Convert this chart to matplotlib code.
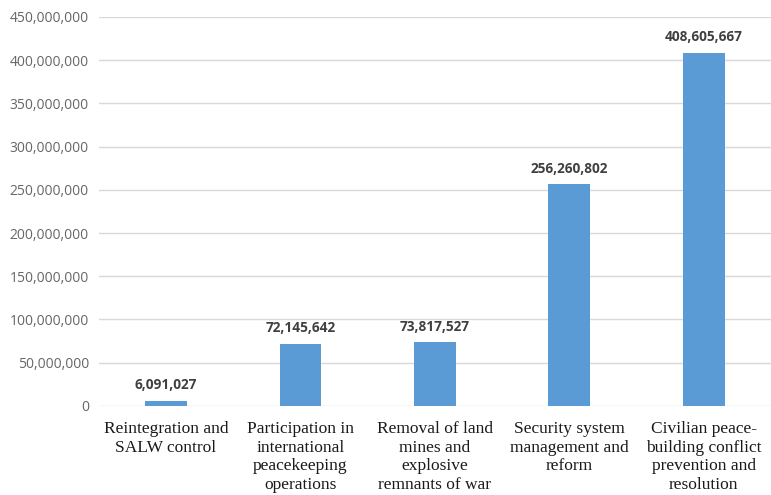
import matplotlib.pyplot as plt
from matplotlib.ticker import FuncFormatter

categories = [
    "Reintegration and\nSALW control",
    "Participation in\ninternational\npeacekeeping\noperations",
    "Removal of land\nmines and\nexplosive\nremnants of war",
    "Security system\nmanagement and\nreform",
    "Civilian peace-\nbuilding conflict\nprevention and\nresolution",
]
amounts = [6091027, 72145642, 73817527, 256260802, 408605667]

fig = plt.figure(figsize=(7.71, 4.95), dpi=100)
ax = fig.add_axes([0.128, 0.18, 0.872, 0.7857])

x = range(len(categories))
bars = ax.bar(x, amounts, width=0.31, color="#5B9BD5", zorder=3)

# value labels above each bar
for b, v in zip(bars, amounts):
    ax.annotate(f"{v:,}", (b.get_x() + b.get_width() / 2, v),
                xytext=(0, 6), textcoords="offset points",
                ha="center", va="bottom", fontsize=9.8, fontweight="bold",
                color="#404040", family="Open Sans")

ax.set_xlim(-0.5, 4.5)
ax.set_ylim(0, 450_000_000)
ax.set_yticks(range(0, 450_000_001, 50_000_000))
ax.yaxis.set_major_formatter(FuncFormatter(lambda v, p: f"{int(v):,}"))
ax.grid(axis="y", color="#D9D9D9", linewidth=1, zorder=0)

ax.set_xticks(list(x))
ax.set_xticklabels(categories, family="Liberation Serif", fontsize=12.5,
                   color="#1a1a1a", linespacing=1.22)
for lbl in ax.get_yticklabels():
    lbl.set_family("Open Sans")
    lbl.set_fontsize(10)
    lbl.set_color("#666666")

ax.tick_params(axis="both", length=0)
ax.tick_params(axis="x", pad=11)
ax.tick_params(axis="y", pad=7)
for s in ax.spines.values():
    s.set_visible(False)

fig.savefig("out.png", dpi=100)
